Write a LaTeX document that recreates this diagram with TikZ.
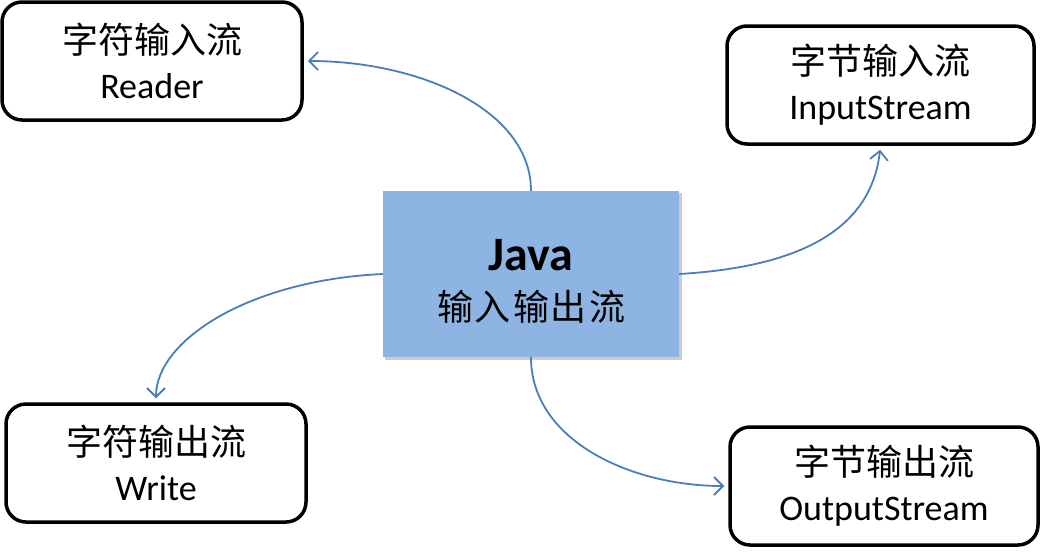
\documentclass[tikz,border=0pt]{standalone}
\usepackage{fontspec}
\setmainfont{Carlito}
\newfontfamily\cjk{Noto Sans CJK SC}
\usetikzlibrary{arrows.meta}
\definecolor{javafill}{HTML}{8EB4E3}
\definecolor{arrowblue}{HTML}{4A7EBB}
\tikzset{
  roundbox/.style={draw=black, line width=3.5pt, rounded corners=20pt, fill=white,
    minimum width=300pt, minimum height=118pt, align=center, inner sep=0pt,
    font=\fontsize{36}{45}\selectfont},
  centerbox/.style={fill=javafill, minimum width=296pt, minimum height=166pt, inner sep=0pt},
  centertext/.style={align=center, inner sep=0pt, font=\fontsize{36}{50}\selectfont},
  conn/.style={draw=arrowblue, line width=1.8pt, shorten >=4pt,
    -{Straight Barb[length=9pt,width=18pt,line width=1.8pt]}},
}
\begin{document}
\begin{tikzpicture}[x=1pt,y=-1pt]
\useasboundingbox (0,0) rectangle (1040,555);
\fill[black!20] (385,193) rectangle (682,360);
\node[centerbox] (java) at (531,274) {};
\node[centertext] (javatext) at (531,281) {{\fontsize{48}{50}\selectfont\bfseries Java}\\{\cjk 输\kern2pt 入\kern2pt 输\kern2pt 出\kern2pt 流}};
\node[roundbox] (reader) at (152,61) {{\cjk 字符输入流}\\Reader};
\node[roundbox, minimum width=307pt] (input) at (880.5,85) {{\cjk 字节输入流}\\InputStream};
\node[roundbox] (write) at (156,463) {{\cjk 字符输出流}\\Write};
\node[roundbox, minimum width=308pt] (output) at (884,486) {{\cjk 字节输出流}\\OutputStream};
\draw[conn] (java.north) .. controls (531,110) and (420,61) .. (reader.east);
\draw[conn] (java.east) .. controls (780,268) and (870,240) .. (input.south);
\draw[conn] (java.west) .. controls (250,280) and (156,340) .. (write.north);
\draw[conn] (java.south) .. controls (531,440) and (630,486) .. (output.west);
\end{tikzpicture}
\end{document}
